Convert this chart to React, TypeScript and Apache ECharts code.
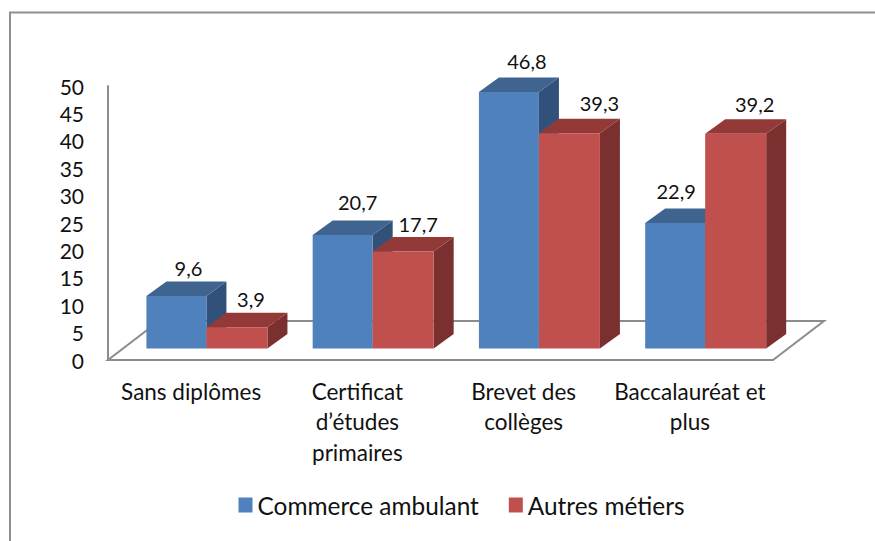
import React, { useEffect, useRef } from "react";
import * as echarts from "echarts";

const categories = ["Sans diplômes", "Certificat\nd’études\nprimaires", "Brevet des\ncollèges", "Baccalauréat et\nplus"];
const yTicks = [0, 5, 10, 15, 20, 25, 30, 35, 40, 45, 50];
const commerceAmbulant = [9.6, 20.7, 46.8, 22.9];
const autresMetiers = [3.9, 17.7, 39.3, 39.2];
const seriesNames = ["Commerce ambulant", "Autres métiers"];

// hand placement of the value labels, relative to the bar's front top centre
const commerceNudge = [[12, -28], [15, -33], [18, -31], [1, -32]];
const autresNudge = [[14, -28], [15, -28], [30, -30], [19, -30]];

const FONT = "Lato";
const AXIS_GREY = "#8c8c8c";
const DEPTH = { dx: 20, dy: 14.5 };
const FLOOR = { dx: 51, dy: 39 };
const BAR_SHIFT = { dx: 15.3, dy: 11.5 };
const BAR_WIDTHS = [60, 61];

const palettes = [
  { front: "#4F81BD", top: "#3F648F", side: "#32517A" },
  { front: "#C0504D", top: "#933A38", side: "#7A302E" },
];

function barRenderer(seriesIdx: number, nudges: number[][]) {
  return (_params: any, api: any) => {
    const cat = api.value(0);
    const val = api.value(1);
    const base = api.coord([cat, 0]);
    const top = api.coord([cat, val]);
    const p = palettes[seriesIdx];
    const w = BAR_WIDTHS[seriesIdx];
    const xl = base[0] + BAR_SHIFT.dx + (seriesIdx === 0 ? -w : 0);
    const xr = xl + w;
    const yb = base[1] - BAR_SHIFT.dy;
    const yt = top[1] - BAR_SHIFT.dy;
    const { dx, dy } = DEPTH;
    const n = nudges[cat];
    return {
      type: "group",
      children: [
        { type: "polygon", shape: { points: [[xr, yb], [xr + dx, yb - dy], [xr + dx, yt - dy], [xr, yt]] }, style: { fill: p.side } },
        { type: "polygon", shape: { points: [[xl, yt], [xl + dx, yt - dy], [xr + dx, yt - dy], [xr, yt]] }, style: { fill: p.top } },
        { type: "rect", shape: { x: xl, y: yt, width: w, height: yb - yt }, style: { fill: p.front } },
        {
          type: "text",
          z2: 10,
          style: {
            x: (xl + xr) / 2 + n[0],
            y: yt + n[1],
            text: String(val).replace(".", ","),
            align: "center",
            verticalAlign: "middle",
            fill: "#111",
            font: `20px ${FONT}`,
          },
        },
      ],
    };
  };
}

function floorRenderer(params: any) {
  const c = params.coordSys;
  const l = c.x;
  const r = c.x + c.width;
  const b = c.y + c.height;
  return {
    type: "polygon",
    shape: { points: [[l, b], [r, b], [r + FLOOR.dx, b - FLOOR.dy], [l + FLOOR.dx, b - FLOOR.dy]] },
    style: { fill: "#fff", stroke: AXIS_GREY, lineWidth: 2 },
  };
}

export default function App() {
  const ref = useRef<HTMLDivElement>(null);
  useEffect(() => {
    const chart = echarts.init(ref.current!, null, { renderer: "svg" });
    chart.setOption({
      animation: false,
      backgroundColor: "#fff",
      graphic: [
        { type: "polyline", shape: { points: [[10, 541], [10, 12.5], [875, 12.5]] }, style: { stroke: "#8f8f8f", lineWidth: 2, fill: "none" } },
      ],
      grid: { left: 108, top: 86, width: 665, height: 274, containLabel: false },
      legend: {
        left: 233.5,
        top: 488,
        itemWidth: 14,
        itemHeight: 15,
        itemGap: 30,
        icon: "rect",
        data: seriesNames,
        textStyle: { fontFamily: FONT, fontSize: 24.4, color: "#111" },
      },
      xAxis: {
        type: "category",
        data: categories,
        axisLine: { show: false },
        axisTick: { show: false },
        axisLabel: { fontFamily: FONT, fontSize: 22.5, color: "#111", lineHeight: 30.5, margin: 16, interval: 0 },
      },
      yAxis: {
        type: "value",
        min: yTicks[0],
        max: yTicks[yTicks.length - 1],
        interval: yTicks[1] - yTicks[0],
        splitLine: { show: false },
        axisTick: { show: false },
        axisLine: { show: true, lineStyle: { color: AXIS_GREY, width: 2 } },
        axisLabel: { fontFamily: FONT, fontSize: 21, color: "#111", margin: 24 },
      },
      series: [
        { type: "custom", silent: true, legendHoverLink: false, renderItem: floorRenderer, data: [[0, 0]], z: 1, name: "floor" },
        {
          type: "custom",
          name: seriesNames[0],
          itemStyle: { color: palettes[0].front },
          renderItem: barRenderer(0, commerceNudge),
          encode: { x: 0, y: 1 },
          data: commerceAmbulant.map((v, i) => [i, v]),
          z: 2,
        },
        {
          type: "custom",
          name: seriesNames[1],
          itemStyle: { color: palettes[1].front },
          renderItem: barRenderer(1, autresNudge),
          encode: { x: 0, y: 1 },
          data: autresMetiers.map((v, i) => [i, v]),
          z: 3,
        },
      ],
    });
    return () => chart.dispose();
  }, []);
  return <div ref={ref} style={{ position: "fixed", left: 0, top: 0, width: 875, height: 541 }} />;
}
